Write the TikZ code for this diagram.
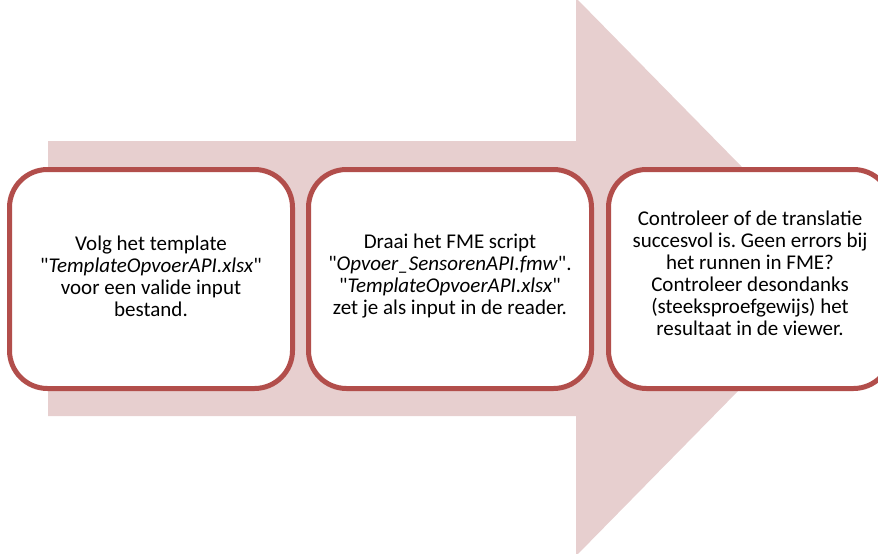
\documentclass[tikz,border=0pt]{standalone}
\usepackage{fontspec}
\setmainfont{Carlito}[Ligatures=TeXOff]
\definecolor{boxred}{HTML}{B24E4B}
\definecolor{arrowpink}{HTML}{E7CFCF}
\begin{document}
\frenchspacing
\begin{tikzpicture}[x=1pt,y=-1pt,
  stepbox/.style={draw=boxred, line width=5pt, fill=white, rounded corners=38pt,
    minimum width=283pt, minimum height=219pt, inner sep=0pt},
  steptext/.style={align=center, inner sep=0pt, font=\fontsize{21}{22}\selectfont}]
\useasboundingbox (0,0) rectangle (878,554);
\fill[arrowpink] (48,141) -- (576,141) -- (576,-2) -- (850,277) -- (576,556) -- (576,416) -- (48,416) -- cycle;
\node[stepbox] (b1) at (151,279) {};
\node[stepbox] (b2) at (450,279) {};
\node[stepbox] (b3) at (750,279) {};
\node[steptext] (t1) at (151,276) {Volg het template\\"\textit{TemplateOpvoerAPI.xlsx}"\\voor een valide input\\bestand.};
\node[steptext] (t2) at (450,276) {Draai het FME script\\"\textit{Opvoer\_SensorenAPI.fmw}".\\"\textit{TemplateOpvoerAPI.xlsx}"\\zet je als input in de reader.};
\node[steptext] (t3) at (750,273) {Controleer of de translatie\\succesvol is. Geen errors bij\\het runnen in FME?\\Controleer desondanks\\(steeksproefgewijs) het\\resultaat in de viewer.};
\end{tikzpicture}
\end{document}
